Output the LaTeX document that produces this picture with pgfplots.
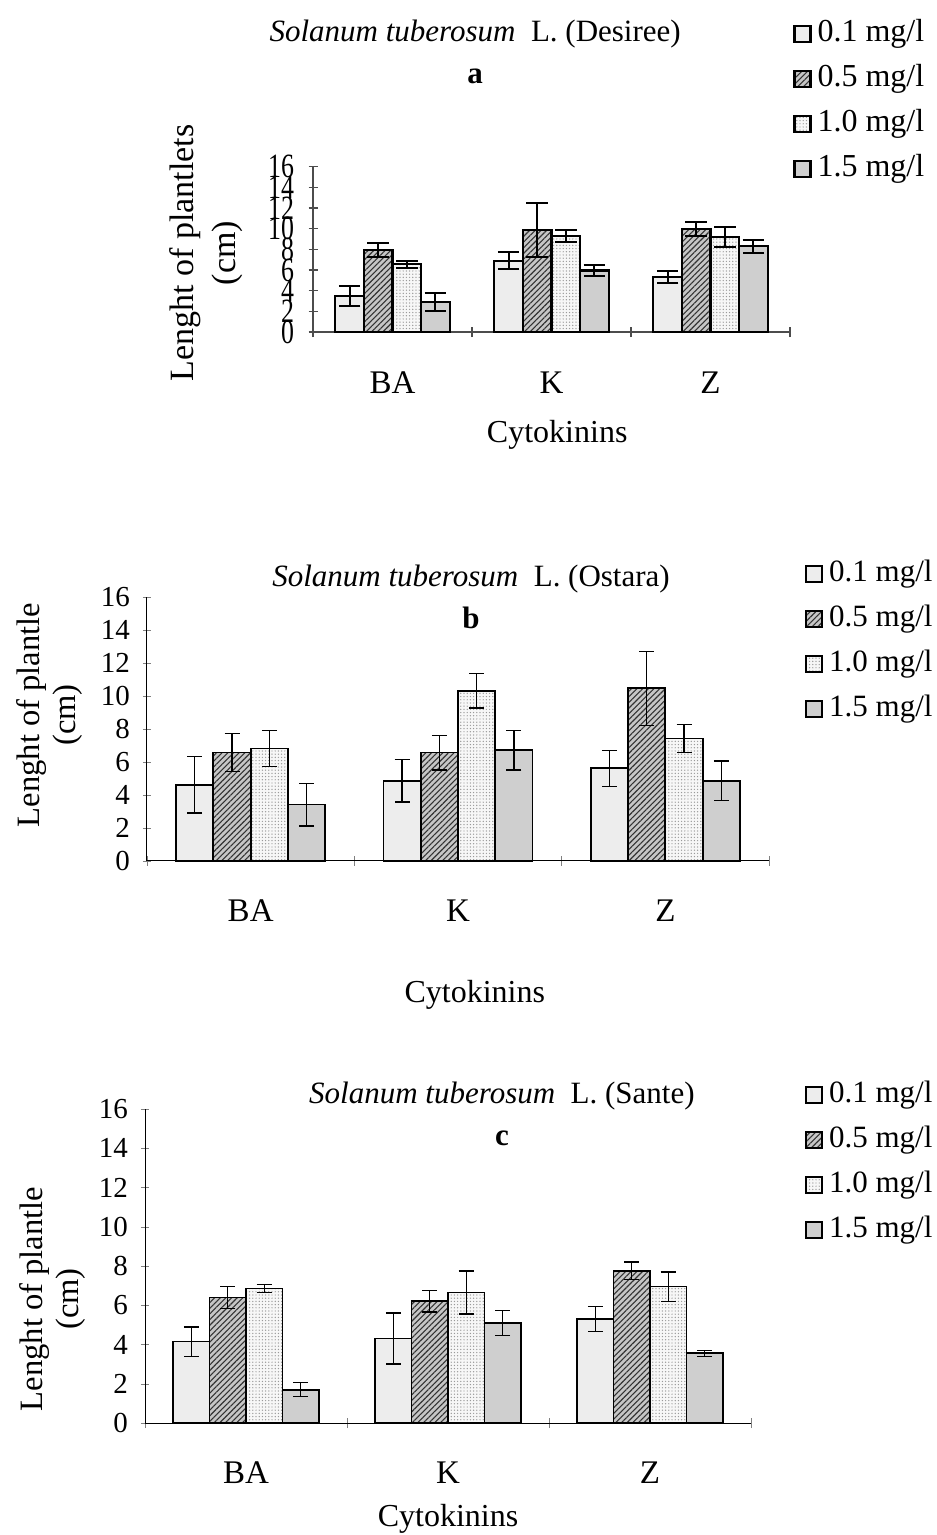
\documentclass[border=0pt]{standalone}
\usepackage{fontspec}
\setmainfont{Liberation Serif}
\usepackage{pgfplots}
\pgfplotsset{compat=1.18}
\usetikzlibrary{patterns.meta}

% bar fills
\pgfplotsset{
  s1/.style={draw=black, fill=gray!14},
  s2/.style={draw=black, fill=gray!45, postaction={pattern={Lines[angle=45,distance=2pt,line width=0.55pt]}, pattern color=black!80}},
  s3/.style={draw=black, fill=gray!6, postaction={pattern={Dots[distance=1.6pt,radius=0.35pt]}, pattern color=gray!80}},
  s4/.style={draw=black, fill=gray!38},
  panel/.style={
    scale only axis, ybar=0pt, bar width=0.18,
    xmin=0.5, xmax=3.5, ymin=0, ymax=16,
    ytick={0,2,...,16}, xtick={1,2,3}, xticklabels={BA,K,Z},
    minor xtick={0.5,1.5,2.5,3.5}, major x tick style={draw=none},
    minor tick length=5pt, tick align=outside,
    axis x line=bottom, axis y line=left, axis line style={-},
    clip=false, /pgf/number format/assume math mode=true,
    xlabel={Cytokinins},
    title style={align=center, anchor=center, font=\fontsize{15.5}{21}\selectfont},
    ylabel style={align=center, anchor=center},
    xlabel style={anchor=center, font=\fontsize{16}{19}\selectfont},
    xticklabel style={font=\fontsize{16.5}{19}\selectfont},
    xticklabel shift=14pt,
    legend image code/.code={\draw[#1] (0pt,-4pt) rectangle (8pt,4pt);},
    legend style={draw=none, fill=none, anchor=north west,
      font=\fontsize{15.5}{18}\selectfont, row sep=9pt, inner sep=0pt,
      nodes={inner sep=0pt, text height=10.5pt, text depth=3pt},
      /tikz/every odd column/.append style={column sep=3pt}},
    legend cell align=left,
  },
}

\begin{document}
\begin{tikzpicture}
\useasboundingbox (0pt,0pt) rectangle (468pt,-767.5pt);

% ---- a: Desiree
\begin{axis}[panel,
  at={(156.5pt,-166pt)}, anchor=south west, width=238.5pt, height=82.65pt,
  major tick length=4.5pt,
  axis line style={gray!60!black, line width=0.6pt},
  every tick/.style={gray!60!black, line width=0.6pt},
  yticklabel style={font=\fontsize{17}{17}\selectfont, xscale=0.76, xshift=-6pt},
  every axis plot/.append style={line width=1.15pt},
  error bars/error bar style={line width=1pt, black},
  error bars/error mark options={rotate=90, mark size=5.4pt, line width=1pt, black},
  title={\textit{Solanum tuberosum}\ \ L. (Desiree)\\\textbf{a}},
  title style={at={(axis description cs:0.340,1.621)}},
  ylabel={Lenght of plantlets\\(cm)},
  ylabel style={at={(axis description cs:-0.224,0.478)}, font=\fontsize{17}{21}\selectfont},
  xlabel style={at={(axis description cs:0.512,0)}, yshift=-51.5pt},
  legend style={at={(axis description cs:1.006,1.885)}, font=\fontsize{16}{18}\selectfont},
]
\addplot[s1, error bars/.cd, y dir=both, y explicit] coordinates {(1,3.5) +- (0,0.95) (2,6.9) +- (0,0.8) (3,5.3) +- (0,0.6)};
\addplot[s2, error bars/.cd, y dir=both, y explicit] coordinates {(1,7.95) +- (0,0.7) (2,9.85) +- (0,2.6) (3,9.95) +- (0,0.65)};
\addplot[s3, error bars/.cd, y dir=both, y explicit] coordinates {(1,6.55) +- (0,0.35) (2,9.3) +- (0,0.6) (3,9.2) +- (0,1.0)};
\addplot[s4, error bars/.cd, y dir=both, y explicit] coordinates {(1,2.9) +- (0,0.9) (2,5.95) +- (0,0.5) (3,8.3) +- (0,0.65)};
\legend{0.1 mg/l, 0.5 mg/l, 1.0 mg/l, 1.5 mg/l}
\end{axis}

% ---- b: Ostara
\begin{axis}[panel,
  at={(73.5pt,-430.35pt)}, anchor=south west, width=311pt, height=132pt,
  major tick length=4pt,
  axis line style={black, line width=0.5pt},
  yticklabel style={font=\fontsize{14.5}{15}\selectfont, xshift=-3pt},
  every axis plot/.append style={line width=0.85pt},
  error bars/error bar style={line width=0.65pt, black},
  error bars/error mark options={rotate=90, mark size=3.75pt, line width=0.65pt, black},
  title={\textit{Solanum tuberosum}\ \ L. (Ostara)\\\textbf{b}},
  title style={at={(axis description cs:0.521,0.955)}},
  ylabel={Lenght of plantle\\(cm)},
  ylabel style={at={(axis description cs:-0.156,0.552)}, font=\fontsize{16.3}{18}\selectfont},
  xlabel style={at={(axis description cs:0.527,0)}, yshift=-67pt},
  legend style={at={(axis description cs:1.058,1.139)}},
]
\addplot[s1, error bars/.cd, y dir=both, y explicit] coordinates {(1,4.6) +- (0,1.7) (2,4.85) +- (0,1.3) (3,5.6) +- (0,1.1)};
\addplot[s2, error bars/.cd, y dir=both, y explicit] coordinates {(1,6.55) +- (0,1.15) (2,6.55) +- (0,1.05) (3,10.45) +- (0,2.25)};
\addplot[s3, error bars/.cd, y dir=both, y explicit] coordinates {(1,6.8) +- (0,1.1) (2,10.3) +- (0,1.05) (3,7.4) +- (0,0.85)};
\addplot[s4, error bars/.cd, y dir=both, y explicit] coordinates {(1,3.4) +- (0,1.3) (2,6.7) +- (0,1.2) (3,4.85) +- (0,1.2)};
\legend{0.1 mg/l, 0.5 mg/l, 1.0 mg/l, 1.5 mg/l}
\end{axis}

% ---- c: Sante
\begin{axis}[panel,
  at={(72.5pt,-711.5pt)}, anchor=south west, width=303pt, height=157pt,
  major tick length=4pt,
  axis line style={black, line width=0.5pt},
  yticklabel style={font=\fontsize{14.5}{15}\selectfont, xshift=-3pt},
  every axis plot/.append style={line width=0.85pt},
  error bars/error bar style={line width=0.65pt, black},
  error bars/error mark options={rotate=90, mark size=3.75pt, line width=0.65pt, black},
  title={\textit{Solanum tuberosum}\ \ L. (Sante)\\\textbf{c}},
  title style={at={(axis description cs:0.589,0.946)}},
  ylabel={Lenght of plantle\\(cm)},
  ylabel style={at={(axis description cs:-0.153,0.395)}, font=\fontsize{16.3}{18}\selectfont},
  xlabel style={at={(axis description cs:0.5,0)}, yshift=-48pt},
  legend style={at={(axis description cs:1.089,1.089)}},
]
\addplot[s1, error bars/.cd, y dir=both, y explicit] coordinates {(1,4.15) +- (0,0.75) (2,4.3) +- (0,1.3) (3,5.3) +- (0,0.65)};
\addplot[s2, error bars/.cd, y dir=both, y explicit] coordinates {(1,6.4) +- (0,0.55) (2,6.2) +- (0,0.55) (3,7.75) +- (0,0.45)};
\addplot[s3, error bars/.cd, y dir=both, y explicit] coordinates {(1,6.85) +- (0,0.2) (2,6.65) +- (0,1.1) (3,6.95) +- (0,0.75)};
\addplot[s4, error bars/.cd, y dir=both, y explicit] coordinates {(1,1.7) +- (0,0.35) (2,5.1) +- (0,0.65) (3,3.55) +- (0,0.15)};
\legend{0.1 mg/l, 0.5 mg/l, 1.0 mg/l, 1.5 mg/l}
\end{axis}
\end{tikzpicture}
\end{document}
